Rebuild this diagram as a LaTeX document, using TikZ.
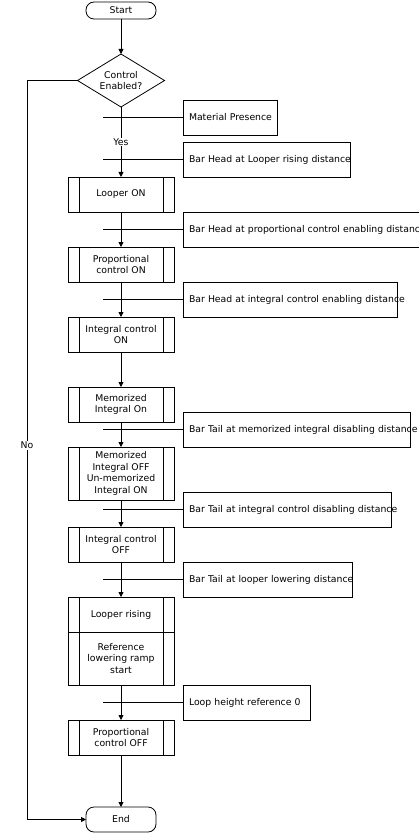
\documentclass[tikz,border=0pt]{standalone}
\usepackage{fontspec}
\setmainfont{DejaVu Sans}
\usetikzlibrary{positioning,shapes.geometric,arrows.meta}
\begin{document}
\begin{tikzpicture}[
        x=1pt, y=-1pt,
        every node/.style={font=\fontsize{9.3}{11.6}\selectfont},
        terminal/.style={draw, rounded corners=8pt, minimum width=70pt, inner sep=0pt, outer sep=0pt},
        decision/.style={draw, diamond, aspect=1.64, minimum width=87pt, minimum height=53pt, inner sep=0pt, outer sep=0pt, align=center},
        process/.style={draw, minimum width=106pt, minimum height=35pt, inner sep=0pt, outer sep=0pt, align=center,
            path picture={
                \draw ([xshift=11pt]path picture bounding box.north west) -- ([xshift=11pt]path picture bounding box.south west);
                \draw ([xshift=-11pt]path picture bounding box.north east) -- ([xshift=-11pt]path picture bounding box.south east);
            }},
        cond/.style={draw, anchor=west, minimum height=35pt, inner xsep=6pt, inner ysep=0pt, outer sep=0pt, text width=#1-12pt, align=left},
        flow/.style={-{Triangle[width=5pt,length=5pt]}},
        lab/.style={fill=white, inner sep=1pt},
        line width=0.8pt
    ]
        \useasboundingbox (0,0) rectangle (418,834);

        % Main flow
        \node [terminal, minimum height=17pt] (start) at (121,10.5) {Start};
        \node [decision, below=35pt of start] (enabled) {Control\\Enabled?};
        \node [process, below=70pt of enabled] (looperon) {Looper ON};
        \node [process, below=35pt of looperon] (propon) {Proportional\\control ON};
        \node [process, below=35pt of propon] (inton) {Integral control\\ON};
        \node [process, below=35pt of inton] (memon) {Memorized\\Integral On};
        \node [process, below=25pt of memon, minimum height=53pt] (memoff) {Memorized\\Integral OFF\\Un-memorized\\Integral ON};
        \node [process, below=27pt of memoff] (intoff) {Integral control\\OFF};
        \node [process, below=35pt of intoff] (looperrise) {Looper rising};
        \node [process, below=0pt of looperrise, minimum height=53pt] (ramp) {Reference\\lowering ramp\\start};
        \node [process, below=35pt of ramp] (propoff) {Proportional\\control OFF};
        \node [terminal, minimum height=25pt, below=52pt of propoff] (end) {End};

        % Conditions
        \coordinate (barx) at (103,0);
        \coordinate (nox) at (27,0);
        \node [cond=94pt] (material) at (183,117.5) {\mbox{Material Presence}};
        \node [cond=167pt] (headlooper) at (183,159.5) {\mbox{Bar Head at Looper rising distance}};
        \node [cond=250pt] (headprop) at (183,229.5) {\mbox{Bar Head at proportional control enabling distance}};
        \node [cond=214pt] (headint) at (183,299.5) {\mbox{Bar Head at integral control enabling distance}};
        \node [cond=227pt] (tailmem) at (183,429.5) {\mbox{Bar Tail at memorized integral disabling distance}};
        \node [cond=208pt] (tailint) at (183,509.5) {\mbox{Bar Tail at integral control disabling distance}};
        \node [cond=169pt] (taillooper) at (183,579.5) {\mbox{Bar Tail at looper lowering distance}};
        \node [cond=127pt] (loopref) at (183,702.5) {\mbox{Loop height reference 0}};

        \foreach \c in {material, headlooper, headprop, headint, tailmem, tailint, taillooper, loopref}
            \draw (\c.west) -- (\c.west -| barx);

        % Connectors
        \draw[flow] (start) -- (enabled);
        \draw[flow] (enabled) -- node[lab] {Yes} (looperon);
        \draw[flow] (looperon) -- (propon);
        \draw[flow] (propon) -- (inton);
        \draw[flow] (inton) -- (memon);
        \draw[flow] (memon) -- (memoff);
        \draw[flow] (memoff) -- (intoff);
        \draw[flow] (intoff) -- (looperrise);
        \draw[flow] (ramp) -- (propoff);
        \draw[flow] (propoff) -- (end);
        \draw[flow] (enabled.west) -- (enabled.west -| nox) |- node[lab, pos=0.247] {No} (end.west);
    \end{tikzpicture}
\end{document}
